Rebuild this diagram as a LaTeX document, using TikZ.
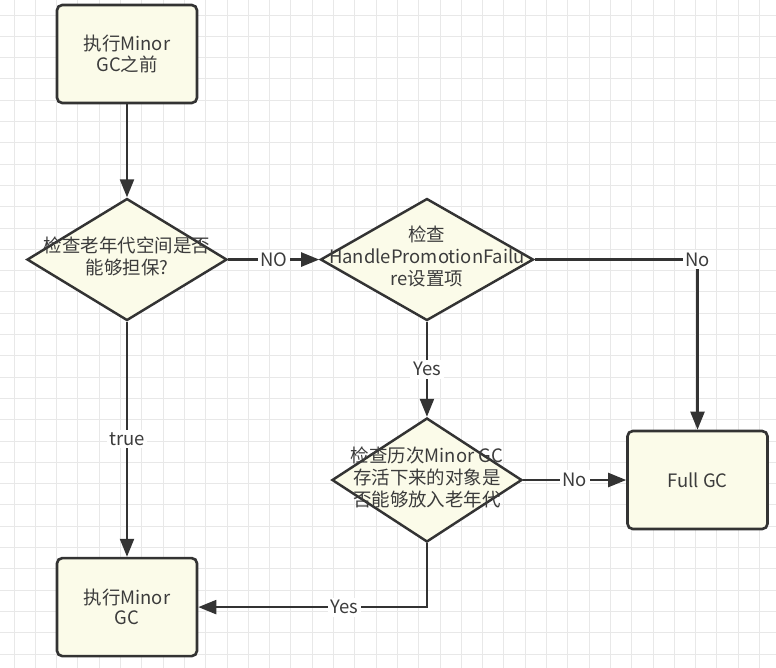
\documentclass[tikz,border=0pt]{standalone}
\usepackage{xcolor}
\usepackage{fontspec}
\setmainfont{Noto Sans CJK SC}
\definecolor{NoteFill}{HTML}{FBFBE9}
\definecolor{InkGray}{HTML}{333333}
\definecolor{TextGray}{HTML}{3C3C3C}
\definecolor{GridGray}{HTML}{E8E8E8}
\usepackage{tikz}
\usetikzlibrary{shapes.geometric, arrows.meta, positioning}
\newcommand{\dtext}[1]{\makebox[0pt]{\smash{\raisebox{-.25em}{\begin{tabular}{@{}c@{}}#1\end{tabular}}}}}

\begin{document}
\begin{tikzpicture}[
  node distance=1cm,
  font=\fontsize{10.5}{12.5}\selectfont,
  stepbox/.style={rectangle, rounded corners=3pt, draw=InkGray, line width=1.5pt, fill=NoteFill, text=TextGray, minimum width=2.8cm, minimum height=1.96cm, align=center, font=\fontsize{10.5}{11.5}\selectfont},
  decision/.style={diamond, draw=InkGray, line width=1.4pt, fill=NoteFill, text=TextGray, inner sep=0pt},
  tag/.style={fill=white, text=TextGray, inner sep=1.5pt},
  arrow/.style={-{Triangle[length=0.36cm, width=0.28cm]}, line width=1.3pt, InkGray}
]
  % Background grid
  \useasboundingbox (0,0) rectangle (15.52,-13.36);
  \fill[white] (0,0) rectangle (15.52,-13.36);
  \begin{scope}[shift={(0.28,-0.30)}]
    \draw[GridGray, line width=0.5pt, step=0.426cm] (-0.28,0.30) grid (15.24,-13.06);
  \end{scope}

  % Main flow
  \node[stepbox] (start) at (2.54,-1.08) {执行Minor\\GC之前};
  \node[decision, minimum width=4cm, minimum height=2.44cm, below=1.86cm of start] (oldspace) {\dtext{检查老年代空间是否\\能够担保?}};
  \node[stepbox, below=4.7cm of oldspace] (minorgc) {执行Minor\\GC};

  % Checks on the right
  \node[decision, minimum width=4.26cm, minimum height=2.44cm, right=1.82cm of oldspace] (handlefail) {\dtext{检查\\HandlePromotionFailu\\re设置项}};
  \node[decision, minimum width=3.8cm, minimum height=2.48cm, below=1.9cm of handlefail] (history) {\dtext{检查历次Minor GC\\存活下来的对象是\\否能够放入老年代}};
  \node[stepbox, right=2.06cm of history] (fullgc) {Full GC};

  % Arrows
  \draw[arrow] (start) -- (oldspace);
  \draw[arrow] (oldspace) -- node[tag] {NO} (handlefail);
  \draw[arrow] (handlefail) -| node[tag] {No} (fullgc);
  \draw[arrow] (handlefail) -- node[tag] {Yes} (history);
  \draw[arrow] (history) -- node[tag] {No} (fullgc);
  \draw[arrow] (history) |- node[tag, pos=0.68] {Yes} (minorgc);
  \draw[arrow] (oldspace) -- node[tag] {true} (minorgc);
\end{tikzpicture}
\end{document}
